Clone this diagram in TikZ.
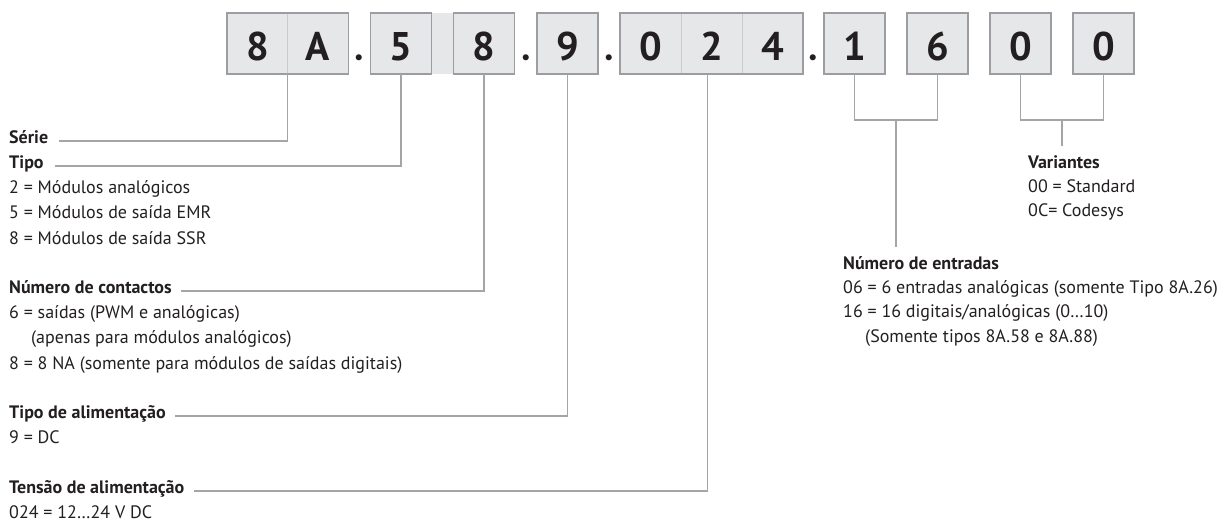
\documentclass[tikz,border=0pt]{standalone}
\usepackage{fontspec}
\setmainfont{PT Sans}
\newfontfamily\dotfont{Lato}
\usetikzlibrary{positioning, fit, calc}
\definecolor{codeFill}{HTML}{E6E7E8}
\definecolor{codeEdge}{HTML}{9B9DA0}
\definecolor{codeDiv}{HTML}{C9CBCD}
\definecolor{leadGray}{HTML}{A3A5A8}
\definecolor{inkBlack}{HTML}{231F20}

\begin{document}
\begin{tikzpicture}[x=1pt, y=-1pt,
  cell/.style={draw=codeDiv, line width=0.8pt, fill=codeFill, minimum width=61pt,
    minimum height=61pt, inner sep=0pt, outer sep=0pt, text height=33pt, text depth=0pt,
    font=\bfseries\fontsize{40}{40}\selectfont, text=inkBlack},
  codebox/.style={draw=codeEdge, line width=1.2pt, inner sep=0pt, outer sep=0pt},
  dotsep/.style={anchor=base, inner sep=0pt, font=\dotfont\bfseries\fontsize{40}{40}\selectfont, text=inkBlack},
  grouphead/.style={anchor=base west, inner sep=0pt, text height=12pt, text depth=4pt,
    font=\bfseries\fontsize{18}{18}\selectfont, text=inkBlack},
  groupline/.style={inner sep=0pt, text height=12pt, text depth=4pt,
    font=\fontsize{18}{18}\selectfont, text=inkBlack},
  leader/.style={draw=leadGray, line width=1.2pt},
  node distance=9pt
]
\useasboundingbox (0,0) rectangle (1217,522);

% code boxes
\node[fill=codeFill, minimum width=22pt, minimum height=61pt, inner sep=0pt] (gap58) at (442.5,43.5) {};
\node[cell] (c8) at (257.5,43.5) {8};
\node[cell] (cA) at (318,43.5) {A};
\node[codebox, fit=(c8)(cA)] (b8A) {};
\node[cell, draw=codeEdge, line width=1.2pt] (c5) at (401,43.5) {5};
\node[cell, draw=codeEdge, line width=1.2pt] (c8b) at (484,43.5) {8};
\node[cell, draw=codeEdge, line width=1.2pt] (c9) at (567.5,43.5) {9};
\node[cell] (c0) at (650.5,43.5) {0};
\node[cell] (c2) at (711.5,43.5) {2};
\node[cell] (c4) at (772.5,43.5) {4};
\node[codebox, fit=(c0)(c4)] (b024) {};
\node[cell, draw=codeEdge, line width=1.2pt] (c1) at (854.5,43.5) {1};
\node[cell, draw=codeEdge, line width=1.2pt] (c6) at (937.5,43.5) {6};
\node[cell, draw=codeEdge, line width=1.2pt] (c0a) at (1020.5,43.5) {0};
\node[cell, draw=codeEdge, line width=1.2pt] (c0b) at (1103.5,43.5) {0};
\node[dotsep] (dot1) at (359.5,60) {.};
\node[dotsep] (dot2) at (526,60) {.};
\node[dotsep] (dot3) at (609,60) {.};
\node[dotsep] (dot4) at (813.5,60) {.};

% left column
\node[grouphead] (serie) at (9,143) {Série};
\node[grouphead] (tipo) at (9,168) {Tipo};
\node[groupline, below=9pt of tipo.south west, anchor=north west] (tipo2) {2 = Módulos analógicos};
\node[groupline, below=9pt of tipo2.south west, anchor=north west] (tipo5) {5 = Módulos de saída EMR};
\node[groupline, below=9pt of tipo5.south west, anchor=north west] (tipo8) {8 = Módulos de saída SSR};

\node[grouphead] (contactos) at (9,293) {Número de contactos};
\node[groupline, below=9pt of contactos.south west, anchor=north west] (cont6) {6 = saídas (PWM e analógicas)};
\node[groupline, below=9pt of cont6.south west, anchor=north west, xshift=22pt] (contap) {(apenas para módulos analógicos)};
\node[groupline, below=9pt of contap.south west, anchor=north west, xshift=-22pt] (cont8) {8 = 8 NA (somente para módulos de saídas digitais)};

\node[grouphead] (alim) at (9,418) {Tipo de alimentação};
\node[groupline, below=9pt of alim.south west, anchor=north west] (alim9) {9 = DC};

\node[grouphead] (tensao) at (9,493) {Tensão de alimentação};
\node[groupline, below=9pt of tensao.south west, anchor=north west] (tensao024) {024 = 12…24 V DC};

% right column
\node[grouphead] (entradas) at (843,269) {Número de entradas};
\node[groupline, below=8pt of entradas.south west, anchor=north west] (ent06) {06 = 6 entradas analógicas (somente Tipo 8A.26)};
\node[groupline, below=8pt of ent06.south west, anchor=north west] (ent16) {16 = 16 digitais/analógicas (0…10)};
\node[groupline, below=8pt of ent16.south west, anchor=north west, xshift=22pt] (entsom) {(Somente tipos 8A.58 e 8A.88)};

\node[grouphead] (variantes) at (1028,168) {Variantes};
\node[groupline, below=8pt of variantes.south west, anchor=north west] (var00) {00 = Standard};
\node[groupline, below=8pt of var00.south west, anchor=north west] (var0C) {0C= Codesys};

% leaders
\draw[leader] ([xshift=11pt,yshift=2pt]serie.base east) -| (b8A.south);
\draw[leader] ([xshift=11pt,yshift=2pt]tipo.base east) -| (c5.south);
\draw[leader] ([xshift=9pt,yshift=2pt]contactos.base east) -| (c8b.south);
\draw[leader] ([xshift=9pt,yshift=2pt]alim.base east) -| (c9.south);
\draw[leader] ([xshift=9pt,yshift=2pt]tensao.base east) -| ([xshift=-4pt]c2.south);

\draw[leader] (c1.south) -- ++(0,46) -| (c6.south);
\coordinate (brA) at ($(c1.south)!0.5!(c6.south)+(0,46)$);
\draw[leader] (brA) -- ([yshift=10pt]brA |- entradas.north);
\draw[leader] (c0a.south) -- ++(0,46) -| (c0b.south);
\coordinate (brB) at ($(c0a.south)!0.5!(c0b.south)+(0,46)$);
\draw[leader] (brB) -- ([yshift=10pt]brB |- variantes.north);
\end{tikzpicture}
\end{document}
